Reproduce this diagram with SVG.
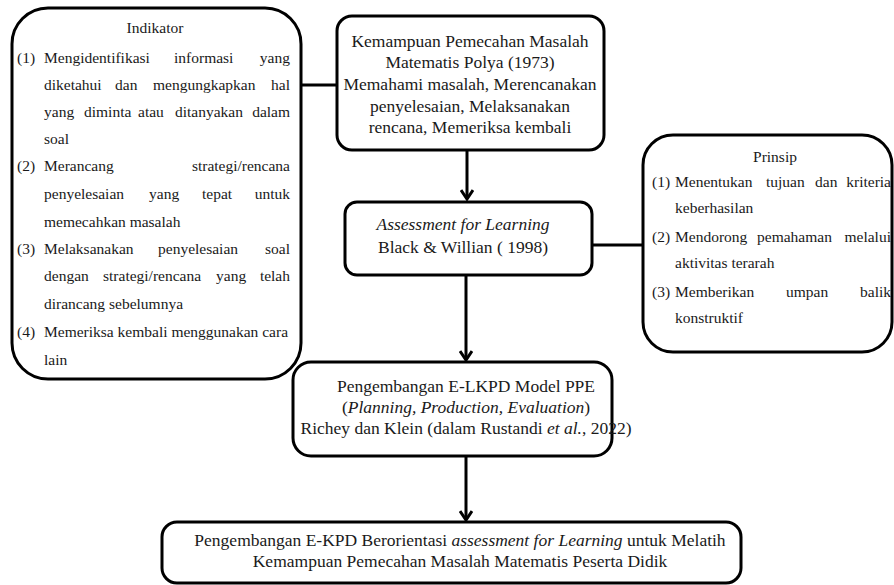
<svg xmlns="http://www.w3.org/2000/svg" width="894" height="585" viewBox="0 0 894 585">
<defs>
<style>
.box{fill:#fff;stroke:#000;stroke-width:3}
.t{fill:#1a1a1a;font-family:'Liberation Serif','Times New Roman',Times,serif}
.s{font-size:15.5px}
.m{font-size:17.5px}
.c{text-anchor:middle}
.e{text-anchor:end}
.i{font-style:italic}
.ln{stroke:#000;stroke-width:3;fill:none}
</style>
<marker id="arr" viewBox="0 0 12 14" refX="10" refY="7" markerWidth="12" markerHeight="14" markerUnits="userSpaceOnUse" orient="auto">
<path d="M1,1 L10,7 L1,13" fill="none" stroke="#000" stroke-width="3"/>
</marker>
</defs>
<rect width="894" height="585" fill="#fff"/>

<g id="connectors">
<line class="ln" x1="302" y1="85" x2="337" y2="85"/>
<line class="ln" x1="467" y1="150" x2="467" y2="199" marker-end="url(#arr)"/>
<line class="ln" x1="592" y1="245" x2="643" y2="245"/>
<line class="ln" x1="466" y1="275" x2="466" y2="360" marker-end="url(#arr)"/>
<line class="ln" x1="466" y1="456" x2="466" y2="520" marker-end="url(#arr)"/>
</g>

<g id="indikator">
<rect class="box" x="12" y="8" width="289" height="371" rx="36"/>
<text class="t s c" x="155" y="33">Indikator</text>
<g class="t s">
<text x="17" y="63">(1)</text><text x="44" y="63">Mengidentifikasi</text><text x="174" y="63">informasi</text><text class="e" x="290" y="63">yang</text>
<text x="44" y="90">diketahui</text><text x="115" y="90">dan</text><text x="153" y="90">mengungkapkan</text><text class="e" x="290" y="90">hal</text>
<text x="44" y="117">yang</text><text x="84" y="117">diminta</text><text x="138" y="117">atau</text><text x="175" y="117">ditanyakan</text><text class="e" x="290" y="117">dalam</text>
<text x="44" y="144">soal</text>
<text x="17" y="171">(2)</text><text x="44" y="171">Merancang</text><text class="e" x="290" y="171">strategi/rencana</text>
<text x="44" y="199">penyelesaian</text><text x="149" y="199">yang</text><text x="202" y="199">tepat</text><text class="e" x="290" y="199">untuk</text>
<text x="44" y="227">memecahkan masalah</text>
<text x="17" y="254">(3)</text><text x="44" y="254">Melaksanakan</text><text x="158" y="254">penyelesaian</text><text class="e" x="290" y="254">soal</text>
<text x="44" y="281">dengan</text><text x="103" y="281">strategi/rencana</text><text x="216" y="281">yang</text><text class="e" x="290" y="281">telah</text>
<text x="44" y="309">dirancang sebelumnya</text>
<text x="17" y="337">(4)</text><text x="44" y="337">Memeriksa kembali menggunakan cara</text>
<text x="44" y="365">lain</text>
</g>
</g>

<g id="polya">
<rect class="box" x="337" y="16" width="267" height="134" rx="15"/>
<g class="t m c">
<text x="470" y="47">Kemampuan Pemecahan Masalah</text>
<text x="470" y="68">Matematis Polya (1973)</text>
<text x="470" y="90">Memahami masalah, Merencanakan</text>
<text x="470" y="112">penyelesaian, Melaksanakan</text>
<text x="470" y="133">rencana, Memeriksa kembali</text>
</g>
</g>

<g id="assessment">
<rect class="box" x="345" y="202" width="247" height="73" rx="12"/>
<g class="t m c">
<text class="i" x="463" y="230">Assessment for Learning</text>
<text x="463" y="253">Black &amp; Willian ( 1998)</text>
</g>
</g>

<g id="prinsip">
<rect class="box" x="643" y="135" width="249" height="217" rx="30"/>
<text class="t s c" x="775" y="162">Prinsip</text>
<g class="t s">
<text x="652" y="187">(1)</text><text x="675" y="187">Menentukan</text><text x="766" y="187">tujuan</text><text x="815" y="187">dan</text><text class="e" x="891" y="187">kriteria</text>
<text x="675" y="213">keberhasilan</text>
<text x="652" y="242">(2)</text><text x="675" y="242">Mendorong</text><text x="757" y="242">pemahaman</text><text class="e" x="891" y="242">melalui</text>
<text x="675" y="268">aktivitas terarah</text>
<text x="652" y="297">(3)</text><text x="675" y="297">Memberikan</text><text x="786" y="297">umpan</text><text class="e" x="891" y="297">balik</text>
<text x="675" y="323">konstruktif</text>
</g>
</g>

<g id="ppe">
<rect class="box" x="293" y="362" width="319" height="94" rx="18"/>
<g class="t m c">
<text x="466" y="392">Pengembangan E-LKPD Model PPE</text>
<text x="466" y="413">(<tspan class="i">Planning, Production, Evaluation</tspan>)</text>
<text x="466" y="434">Richey dan Klein (dalam Rustandi <tspan class="i">et al.</tspan>, 2022)</text>
</g>
</g>

<g id="final">
<rect class="box" x="162" y="522" width="579" height="61" rx="15"/>
<g class="t m c">
<text x="460" y="546">Pengembangan E-KPD Berorientasi <tspan class="i">assessment for Learning</tspan> untuk Melatih</text>
<text x="460" y="567">Kemampuan Pemecahan Masalah Matematis Peserta Didik</text>
</g>
</g>
</svg>
